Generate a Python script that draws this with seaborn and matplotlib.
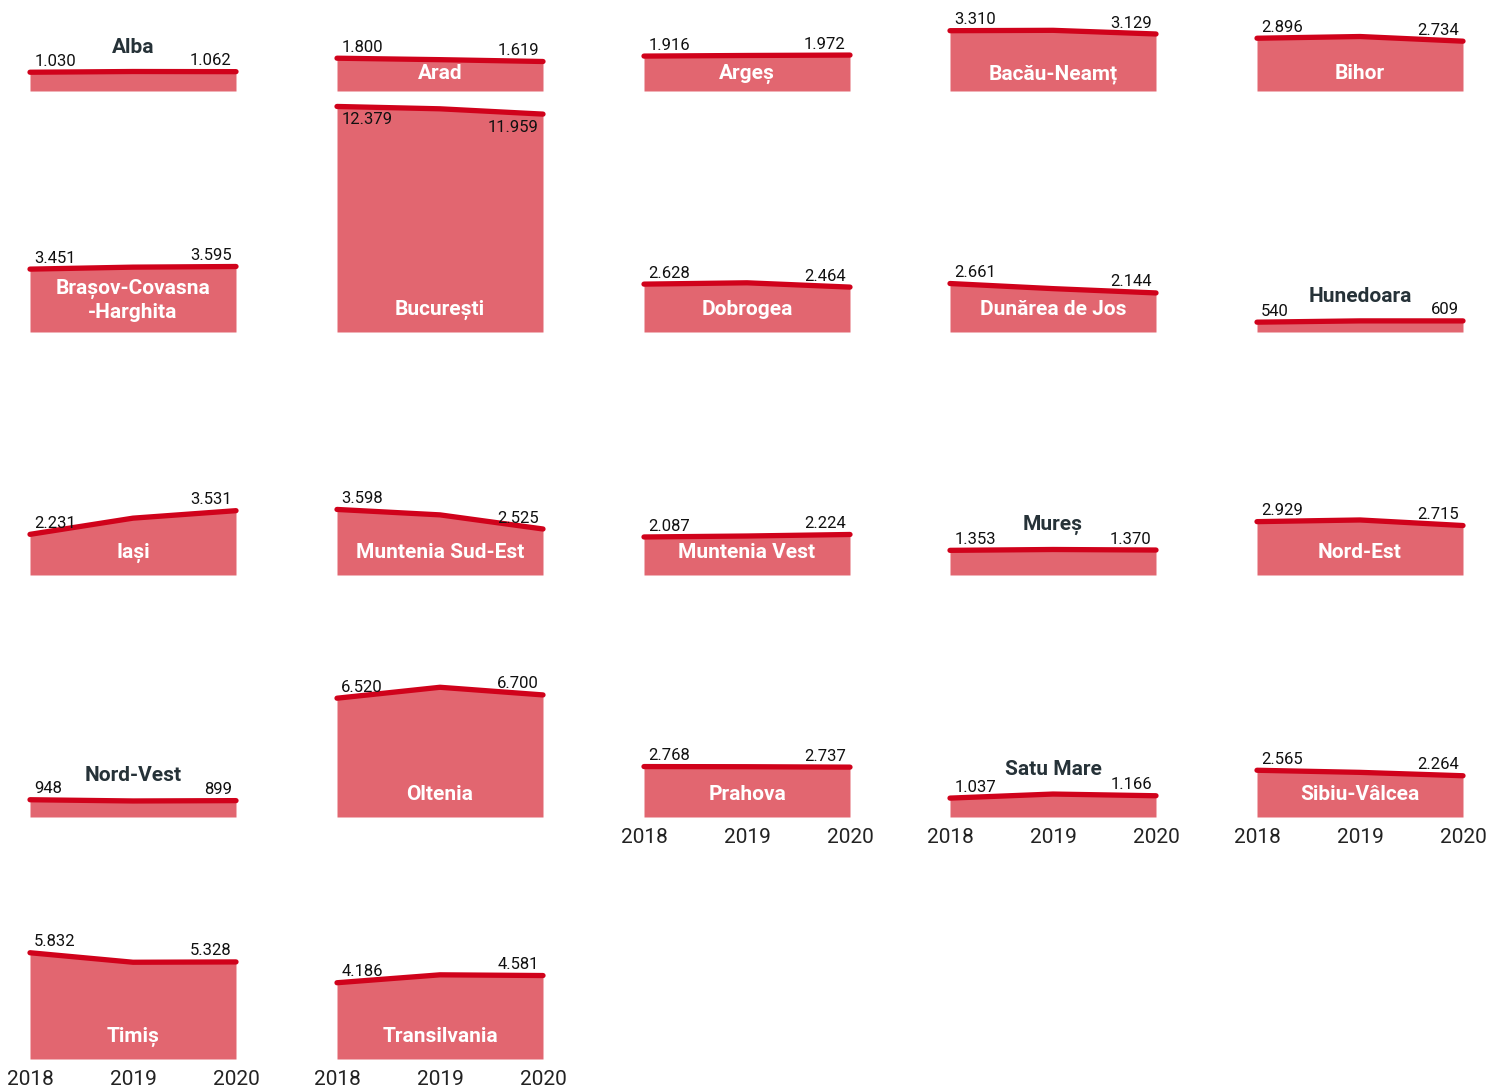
import pandas as pd
import matplotlib
matplotlib.use("Agg")
import matplotlib.pyplot as plt
import seaborn as sns

# ---- data ----
years = [2018, 2019, 2020]
regions = ["Alba", "Arad", "Argeș", "Bacău-Neamț", "Bihor",
           "Brașov-Covasna\n-Harghita", "București", "Dobrogea", "Dunărea de Jos", "Hunedoara",
           "Iași", "Muntenia Sud-Est", "Muntenia Vest", "Mureș", "Nord-Est",
           "Nord-Vest", "Oltenia", "Prahova", "Satu Mare", "Sibiu-Vâlcea",
           "Timiș", "Transilvania"]
v2018 = [1030, 1800, 1916, 3310, 2896,
         3451, 12379, 2628, 2661, 540,
         2231, 3598, 2087, 1353, 2929,
         948, 6520, 2768, 1037, 2565,
         5832, 4186]
v2019 = [1070, 1720, 1950, 3330, 2990,
         3560, 12250, 2700, 2380, 610,
         3120, 3300, 2140, 1400, 3020,
         880, 7120, 2760, 1260, 2450,
         5310, 4620]
v2020 = [1062, 1619, 1972, 3129, 2734,
         3595, 11959, 2464, 2144, 609,
         3531, 2525, 2224, 1370, 2715,
         899, 6700, 2737, 1166, 2264,
         5328, 4581]

rows = []
for i, r in enumerate(regions):
    for y, v in zip(years, [v2018[i], v2019[i], v2020[i]]):
        rows.append({"region": r, "year": y, "value": v})
df = pd.DataFrame(rows)

# ---- style ----
sns.set_style("white")
plt.rcParams["font.family"] = ["Roboto", "DejaVu Sans"]

FILL = "#e26670"
LINE = "#d0021b"
TITLE_DARK = "#263238"

W, H = 1490, 1088
fig = plt.figure(figsize=(W / 100, H / 100), dpi=100)

col_left = [30, 337, 644, 950, 1257]
row_base = [91, 332, 575, 817, 1059]
ax_w = 206
ax_h = 240
px_per_unit = 0.01822
ymax = ax_h / px_per_unit


def fmt(v):
    return f"{v:,}".replace(",", ".")


ncols = 5
last_in_col = {}
for i in range(len(regions)):
    last_in_col[i % ncols] = i

for i, reg in enumerate(regions):
    r, c = divmod(i, ncols)
    left = col_left[c] / W
    bottom = 1 - row_base[r] / H
    ax = fig.add_axes([left, bottom, ax_w / W, ax_h / H])
    sub = df[df["region"] == reg]

    ax.fill_between(sub["year"], sub["value"], color=FILL, lw=0)
    sns.lineplot(data=sub, x="year", y="value", ax=ax, color=LINE,
                 linewidth=3.8, solid_capstyle="round", clip_on=False)

    ax.set_xlim(2018, 2020)
    ax.set_ylim(0, ymax)
    ax.set_xlabel("")
    ax.set_ylabel("")
    ax.set_yticks([])
    sns.despine(ax=ax, left=True, bottom=True)

    if last_in_col[c] == i:
        ax.set_xticks(years)
        ax.set_xticklabels([str(y) for y in years], fontsize=15, color="#222222")
        ax.tick_params(axis="x", length=6, width=1, color="#c8c8c8", pad=2)
    else:
        ax.set_xticks([])

    a, b = v2018[i], v2020[i]
    big = max(a, v2019[i], b) > 10000
    dy = -4 if big else 2.5
    va = "top" if big else "bottom"
    ax.annotate(fmt(a), (2018, a), xytext=(3, dy), textcoords="offset points",
                ha="left", va=va, fontsize=12, color="#111111")
    ax.annotate(fmt(b), (2020, b), xytext=(-3, dy), textcoords="offset points",
                ha="right", va=va, fontsize=12, color="#111111")

    # region name
    if min(a, v2019[i], b) < 1500:
        top = max(a, v2019[i], b)
        ax.annotate(reg, (2019, top), xytext=(0, 17.5), textcoords="offset points",
                    ha="center", va="center", fontsize=15, fontweight="bold",
                    color=TITLE_DARK)
    else:
        off = 12.5 if r == 0 else 16
        if "\n" in reg:
            off = 23
        ax.annotate(reg, (2019, 0), xytext=(0, off), textcoords="offset points",
                    ha="center", va="center", fontsize=15, fontweight="bold",
                    color="white", linespacing=1.25)

fig.savefig("out.png", dpi=100)
